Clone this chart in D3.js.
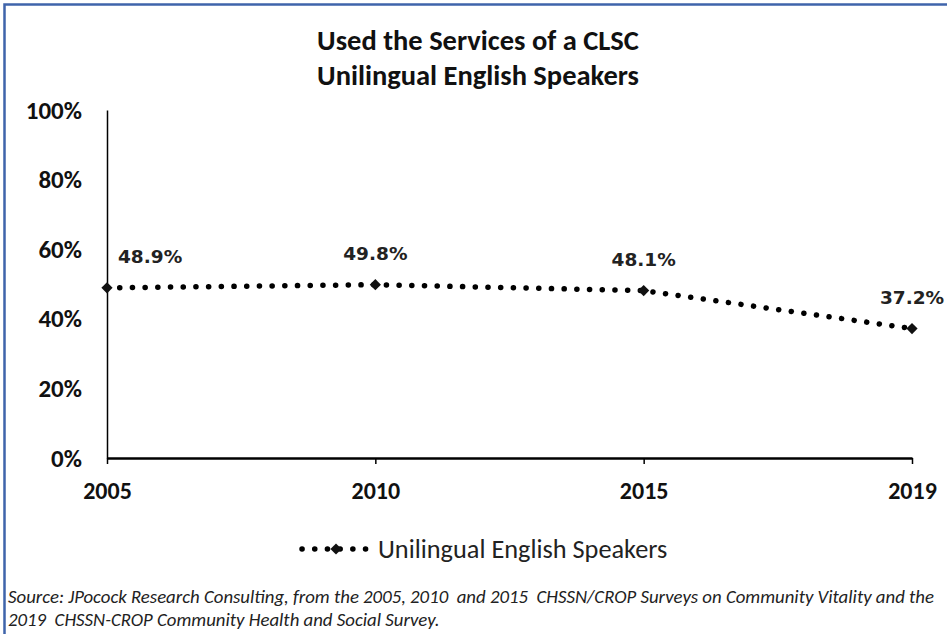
<!DOCTYPE html>
<html><head><meta charset="utf-8">
<script src="https://cdn.jsdelivr.net/npm/d3@7/dist/d3.min.js"></script>
<style>
html,body{margin:0;padding:0;background:#fff;}
svg{display:block;}
</style></head>
<body>
<svg id="c" width="947" height="634"></svg>
<script>
const years = ["2005","2010","2015","2019"];
const values = [48.9, 49.8, 48.1, 37.2];
const yTicks = [0, 20, 40, 60, 80, 100];
const seriesName = "Unilingual English Speakers";
const titleLines = ["Used the Services of a CLSC", "Unilingual English Speakers"];
const sourceLines = [
  "Source: JPocock Research Consulting, from the 2005, 2010  and 2015  CHSSN/CROP Surveys on Community Vitality and the",
  "2019  CHSSN-CROP Community Health and Social Survey."
];

const svg = d3.select("#c");
const cal = "Carlito, Calibri, Lato, 'Open Sans', sans-serif";

// frame
svg.append("rect").attr("x",4.5).attr("y",4.5).attr("width",960).attr("height",660)
  .attr("fill","none").attr("stroke","#3f64ab").attr("stroke-width",2.5);

const x = d3.scalePoint().domain(years).range([107, 912]);
const y = d3.scaleLinear().domain([0,100]).range([458, 110]);

// title
svg.append("g").selectAll("text").data(titleLines).join("text")
  .attr("x", 478).attr("y", (d,i)=> 50 + i*35)
  .attr("text-anchor","middle").attr("font-family",cal).attr("font-weight","bold")
  .attr("font-size",28.5).attr("fill","#111").text(d=>d);

// y axis
const yAxis = svg.append("g").attr("transform","translate(107,0)")
  .call(d3.axisLeft(y).tickValues(yTicks).tickSize(0).tickPadding(25).tickFormat(d=>d+"%"));
yAxis.select(".domain").attr("stroke","#000").attr("stroke-width",1.5);
yAxis.selectAll("text").attr("font-family",cal).attr("font-weight","bold").attr("font-size",25).attr("fill","#111");

// x axis
const xAxis = svg.append("g").attr("transform","translate(0,458)")
  .call(d3.axisBottom(x).tickSizeInner(6).tickSizeOuter(0).tickPadding(18));
xAxis.select(".domain").attr("stroke","#000").attr("stroke-width",2.5);
xAxis.selectAll(".tick line").attr("stroke","#000").attr("stroke-width",1.5);
xAxis.selectAll("text").attr("font-family",cal).attr("font-weight","bold").attr("font-size",24).attr("fill","#111");

const data = years.map((yr,i)=>({yr, v: values[i]}));

// line
const line = d3.line().x(d=>x(d.yr)).y(d=>y(d.v));
svg.append("path").datum(data).attr("d",line).attr("fill","none")
  .attr("stroke","#000").attr("stroke-width",5.5).attr("stroke-linecap","round")
  .attr("stroke-dasharray","0.1 12.6");

// markers
const diamond = d3.symbol().type(d3.symbolDiamond2).size(80);
svg.append("g").selectAll("path").data(data).join("path")
  .attr("d", diamond).attr("transform", d=>`translate(${x(d.yr)},${y(d.v)})`).attr("fill","#111");

// labels
svg.append("g").selectAll("text").data(data).join("text")
  .attr("x", (d,i)=> i===0 ? x(d.yr)+11 : x(d.yr))
  .attr("y", d=> y(d.v) - 25)
  .attr("text-anchor", (d,i)=> i===0 ? "start" : "middle")
  .attr("font-family","'DejaVu Sans', Verdana, sans-serif").attr("font-weight","bold")
  .attr("font-size",18.5).attr("fill","#222").text(d=>d.v.toFixed(1)+"%");

// legend
const lg = svg.append("g").attr("transform","translate(0,549)");
lg.append("line").attr("x1",302).attr("x2",370).attr("y1",0).attr("y2",0)
  .attr("stroke","#000").attr("stroke-width",5.5).attr("stroke-linecap","round")
  .attr("stroke-dasharray","0.1 12.6");
lg.append("path").attr("d", diamond).attr("transform","translate(336,0)").attr("fill","#111");
lg.append("text").attr("x",378).attr("y",9).attr("font-family",cal)
  .attr("font-size",26.3).attr("fill","#222").text(seriesName);

// source
svg.append("g").selectAll("text").data(sourceLines).join("text")
  .attr("x",8).attr("y",(d,i)=>603 + i*23)
  .attr("font-family",cal).attr("font-style","italic").attr("font-size",18.8)
  .attr("fill","#222").style("white-space","pre").text(d=>d);
</script>
</body></html>
